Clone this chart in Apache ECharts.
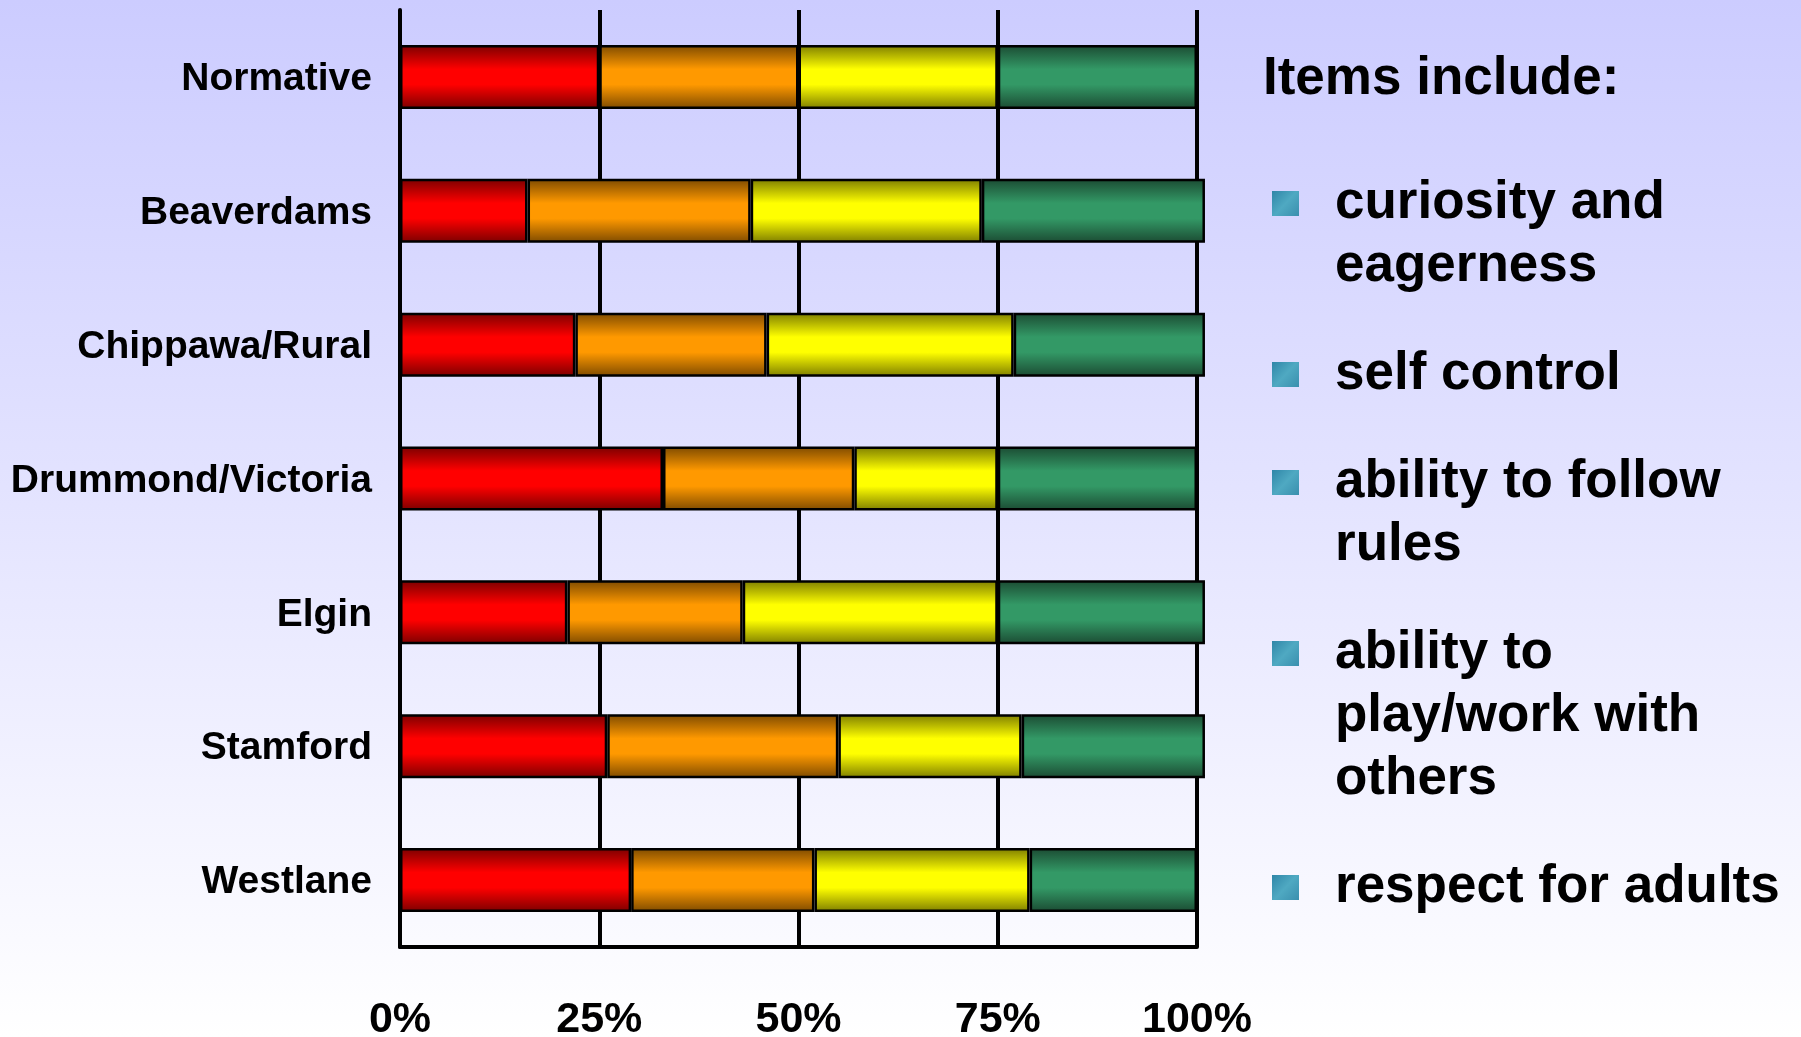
<!DOCTYPE html>
<html>
<head>
<meta charset="utf-8">
<script src="https://cdn.jsdelivr.net/npm/echarts@6/dist/echarts.min.js"></script>
<style>
  html, body { margin: 0; padding: 0; }
  body { width: 1801px; height: 1037px; background: linear-gradient(to bottom, #ccccff 0%, #e2e2ff 45%, #ffffff 100%); }
  #chart { width: 1801px; height: 1037px; }
</style>
</head>
<body>
<div id="chart"></div>
<script>
// ---- data ----
const categories = ['Normative', 'Beaverdams', 'Chippawa/Rural', 'Drummond/Victoria', 'Elgin', 'Stamford', 'Westlane'];
const seriesNames = ['Lowest quartile', 'Second quartile', 'Third quartile', 'Top quartile'];
const redValues    = [25, 16, 22, 33, 21, 26, 29];
const orangeValues = [25, 28, 24, 24, 22, 29, 23];
const yellowValues = [25, 29, 31, 18, 32, 23, 27];
const greenValues  = [25, 28, 24, 25, 26, 23, 21];
const xTickLabels = ['0%', '25%', '50%', '75%', '100%'];
const legendTitle = 'Items include:';
const legendItems = [
  ['curiosity and', 'eagerness'],
  ['self control'],
  ['ability to follow', 'rules'],
  ['ability to', 'play/work with', 'others'],
  ['respect for adults']
];

// ---- styling ----
const FONT = '"Liberation Sans", Arial, Helvetica, sans-serif';
function grad(dark, bright) {
  return new echarts.graphic.LinearGradient(0, 0, 0, 1, [
    { offset: 0, color: dark },
    { offset: 0.38, color: bright },
    { offset: 0.62, color: bright },
    { offset: 1, color: dark }
  ]);
}
const fills = [
  grad('#7a0000', '#ff0000'),
  grad('#7d4a00', '#ff9900'),
  grad('#7d7d00', '#ffff00'),
  grad('#1b4a32', '#339966')
];
const valueSets = [redValues, orangeValues, yellowValues, greenValues];

const series = valueSets.map((vals, i) => ({
  name: seriesNames[i],
  type: 'bar',
  stack: 'total',
  clip: false,
  barWidth: 64,
  data: vals,
  itemStyle: { color: fills[i], borderColor: '#000', borderWidth: 2.5 },
  emphasis: { disabled: true }
}));

// legend-like text block on the right
const graphics = [{
  type: 'text', left: 1263, top: 83 - 30,
  style: { text: legendTitle, font: 'bold 53px ' + FONT, fill: '#000' }
}];
const lineH = 63, gap = 45;
let yCursor = 203;
legendItems.forEach(lines => {
  graphics.push({
    type: 'rect', shape: { x: 1272, y: yCursor - 12, width: 27, height: 25 },
    style: { fill: new echarts.graphic.LinearGradient(0, 0, 1, 1, [
      { offset: 0, color: '#2f86a8' }, { offset: 0.5, color: '#4fa9c2' }, { offset: 1, color: '#3a8fae' }]) }
  });
  graphics.push({
    type: 'text', x: 1335, y: yCursor - lineH / 2,
    style: { text: lines.join('\n'), font: 'bold 53px ' + FONT, lineHeight: lineH, fill: '#000', verticalAlign: 'top' }
  });
  yCursor += lines.length * lineH + gap;
});

const chart = echarts.init(document.getElementById('chart'), null, { renderer: 'canvas' });
chart.setOption({
  animation: false,
  backgroundColor: 'transparent',
  grid: { left: 400, right: 604, top: 10, bottom: 90, outerBoundsMode: 'none', containLabel: false },
  xAxis: {
    type: 'value', min: 0, max: 100, interval: 25,
    axisLine: { show: true, lineStyle: { color: '#000', width: 4 } },
    axisTick: { show: false },
    splitLine: { show: true, lineStyle: { color: '#000', width: 4 } },
    axisLabel: {
      margin: 52, color: '#000', fontSize: 43, fontWeight: 'bold', fontFamily: FONT,
      formatter: v => xTickLabels[Math.round(v / 25)]
    }
  },
  yAxis: {
    type: 'category', data: categories, inverse: true,
    axisLine: { show: true, lineStyle: { color: '#000', width: 4 } },
    axisTick: { show: false },
    axisLabel: { margin: 28, color: '#000', fontSize: 39, fontWeight: 'bold', fontFamily: FONT, verticalAlign: 'top', lineHeight: 5 }
  },
  series: series,
  graphic: graphics
});
</script>
</body>
</html>
